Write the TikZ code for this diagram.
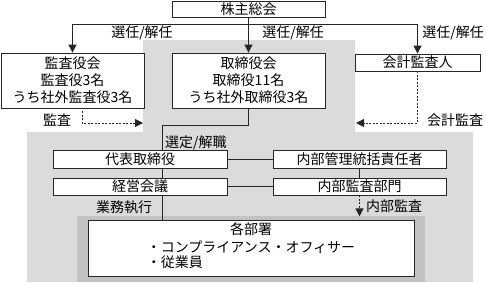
\documentclass[tikz,border=0pt]{standalone}
\usepackage{fontspec}
\setmainfont{Noto Sans CJK JP}
\usetikzlibrary{arrows.meta}
\definecolor{outerbg}{gray}{0.86}
\definecolor{innerbg}{gray}{0.76}

\begin{document}
\begin{tikzpicture}[x=1pt, y=-1pt,
  box/.style={draw=black!85, line width=0.8pt, fill=white, inner sep=0pt, align=center,
              font=\fontsize{14}{17}\selectfont},
  link/.style={draw=black!85, line width=0.8pt},
  arr/.style={link, -{Triangle[width=8pt,length=8pt]}},
  dotarr/.style={arr, dash pattern=on 2pt off 1.5pt},
  lbl/.style={inner sep=0pt, font=\fontsize{14}{17}\selectfont}
]
\useasboundingbox (0,0) rectangle (486,282);

% Shaded areas
\fill[outerbg] (143,40) -- (355,40) -- (355,132) -- (473,132) -- (473,282)
  -- (27,282) -- (27,132) -- (143,132) -- cycle;
\fill[innerbg] (77,216) rectangle (425,282);

% Top row
\node[box, minimum width=153, minimum height=16] (meeting) at (248.5,9) {株主総会};
\node[box, minimum width=143, minimum height=55] (kansa) at (72.5,80.5)
  {監査役会\\監査役3名\\うち社外監査役3名};
\node[box, minimum width=153, minimum height=55] (board) at (248.5,80.5)
  {取締役会\\取締役11名\\うち社外取締役3名};
\node[box, minimum width=125, minimum height=17] (auditor) at (417.5,62.5) {会計監査人};

% Executive side
\node[box, minimum width=174, minimum height=18] (ceo) at (140,159) {代表取締役};
\node[box, minimum width=174, minimum height=17] (council) at (140,186.5) {経営会議};

% Internal control side
\node[box, minimum width=173, minimum height=18] (officer) at (359.5,159) {内部管理統括責任者};
\node[box, minimum width=173, minimum height=17] (iaudit) at (359.5,186.5) {内部監査部門};

% Departments
\node[box, minimum width=326, minimum height=56] (depts) at (251,248)
  {各部署\\[1pt]\begin{tabular}[t]{@{}l@{}}・コンプライアンス・オフィサー\\[-2pt]・従業員\end{tabular}};

% Election arrows
\path (meeting.south) ++(0,7) coordinate (split);
\draw[arr] (meeting.south) -- (board.north);
\draw[arr] (split) -| (kansa.north);
\draw[arr] (split) -| (auditor.north);
\node[lbl] (lblElectL) at (142,33) {選任/解任};
\node[lbl] (lblElectM) at (293,33) {選任/解任};
\node[lbl] (lblElectR) at (453,33) {選任/解任};

% Audits
\path (kansa.south) ++(9.5,3) coordinate (kansaOut);
\coordinate (grayLeft) at (143,123);
\coordinate (grayRight) at (356,123);
\draw[dotarr] (kansaOut) |- (grayLeft);
\draw[dotarr] (auditor.south) |- (grayRight);
\node[lbl] (lblAudit) at (57,120) {監査};
\node[lbl] (lblAcct) at (455,120) {会計監査};

% Board to executives
\path (ceo.north) ++(22,0) coordinate (ceoTop);
\draw[link] (board.south) -- ++(0,17) -| (ceoTop);
\draw[link] (ceoTop |- ceo.south) -- (ceoTop |- council.north);
\draw[link] (ceoTop |- council.south) -- (ceoTop |- depts.north);
\node[lbl, anchor=west] (lblSelect) at (165,143) {選定/解職};
\node[lbl] (lblExec) at (124,207) {業務執行};

% Cross links
\draw[link] (ceo) -- (officer);
\draw[link] (council) -- (iaudit);
\draw[link] (officer) -- (iaudit);

% Internal audit
\path (iaudit.south) ++(0,21) coordinate (innerTop);
\draw[dotarr] (iaudit.south) -- (innerTop);
\node[lbl, anchor=west] (lblInner) at (366,206) {内部監査};
\end{tikzpicture}
\end{document}
